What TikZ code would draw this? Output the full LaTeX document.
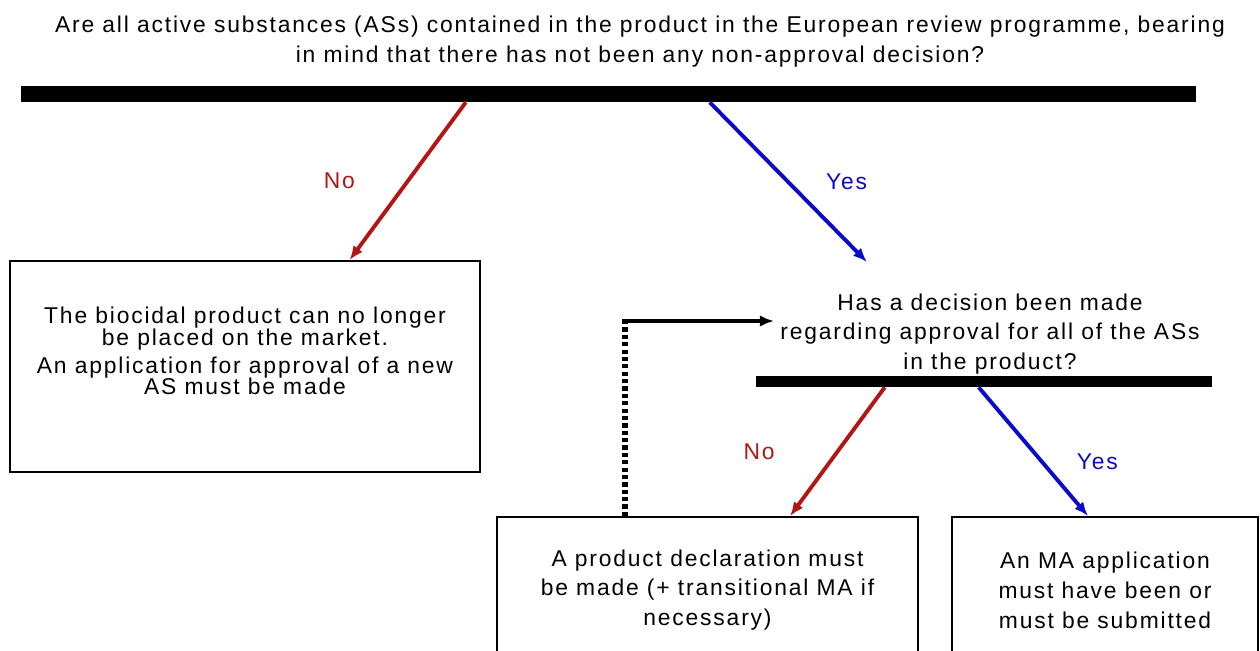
\documentclass[tikz,border=0pt]{standalone}
\usepackage{fontspec}
\setmainfont{Liberation Sans}[LetterSpace=8]
\usepackage{tikz}
\usetikzlibrary{arrows.meta,calc}
\definecolor{nored}{RGB}{180,20,20}
\definecolor{yesblue}{RGB}{10,10,200}

\begin{document}
\begin{tikzpicture}[x=0.02cm, y=-0.02cm, font=\fontsize{13}{17}\selectfont,
    box/.style={draw, line width=1.1pt, align=center},
    bar/.style={fill=black, inner sep=0pt},
    nopath/.style={draw=nored, line width=2.2pt, -{Latex[length=8pt,width=6.5pt]}},
    yespath/.style={draw=yesblue, line width=2.2pt, -{Latex[length=8pt,width=6.5pt]}}]
      \useasboundingbox (0,0) rectangle (1260,650);
      \clip (0,0) rectangle (1260,650);
      \node [align=center] (inprogramme) at (640,42) {Are all active substances (ASs) contained in the product in the European review programme, bearing\\ in mind that there has not been any non-approval decision?};
      \node [bar, minimum width=23.5cm, minimum height=0.32cm] (bar1) at (608.5,94) {};
      \node [box, minimum width=9.42cm, minimum height=4.22cm, font=\fontsize{13}{12.5}\selectfont] (nomarket) at (245,366.5) {The biocidal product can no longer\\ be placed on the market.\\[3pt] An application for approval of a new\\ AS must be made\\[5pt]\mbox{}};
      \node [align=center] (decision) at (990,334) {Has a decision been made\\ regarding approval for all of the ASs\\ in the product?};
      \node [bar, minimum width=9.12cm, minimum height=0.22cm] (bar2) at (984,381.5) {};
      \node [box, minimum width=8.42cm, minimum height=2.92cm] (declare) at (707.5,590) {A product declaration must\\ be made (+ transitional MA if\\ necessary)};
      \node [box, minimum width=6.12cm, minimum height=2.92cm] (submit) at (1105,590) {An MA application\\ must have been or\\ must be submitted};
      \coordinate (decisionin) at (867,262);
      \coordinate (loopin) at (774,321);
      \draw [nopath] ($(bar1.south west)+(445,0)$) -- node [nored, left=0.9cm] {No} ($(nomarket.north west)+(341,0)$);
      \draw [yespath] ($(bar1.south west)+(689,0)$) -- node [yesblue, right=0.6cm] {Yes} (decisionin);
      \draw [nopath] ($(bar2.south west)+(129,0)$) -- node [nored, left=1.1cm] {No} ($(declare.north west)+(294,0)$);
      \draw [yespath] ($(bar2.south west)+(223,0)$) -- node [pos=0.58, yesblue, right=0.54cm] {Yes} ($(submit.north west)+(137,0)$);
      \draw [line width=3pt, dash pattern=on 2.4pt off 1.8pt] ($(declare.north west)+(129,0)$) coordinate (loopout) -- (loopout |- loopin) coordinate (loopcorner);
      \draw [line width=2.2pt, -{Latex[length=8pt,width=6.5pt]}] ([xshift=-1.5pt]loopcorner) -- (loopin);
    \end{tikzpicture}
\end{document}
